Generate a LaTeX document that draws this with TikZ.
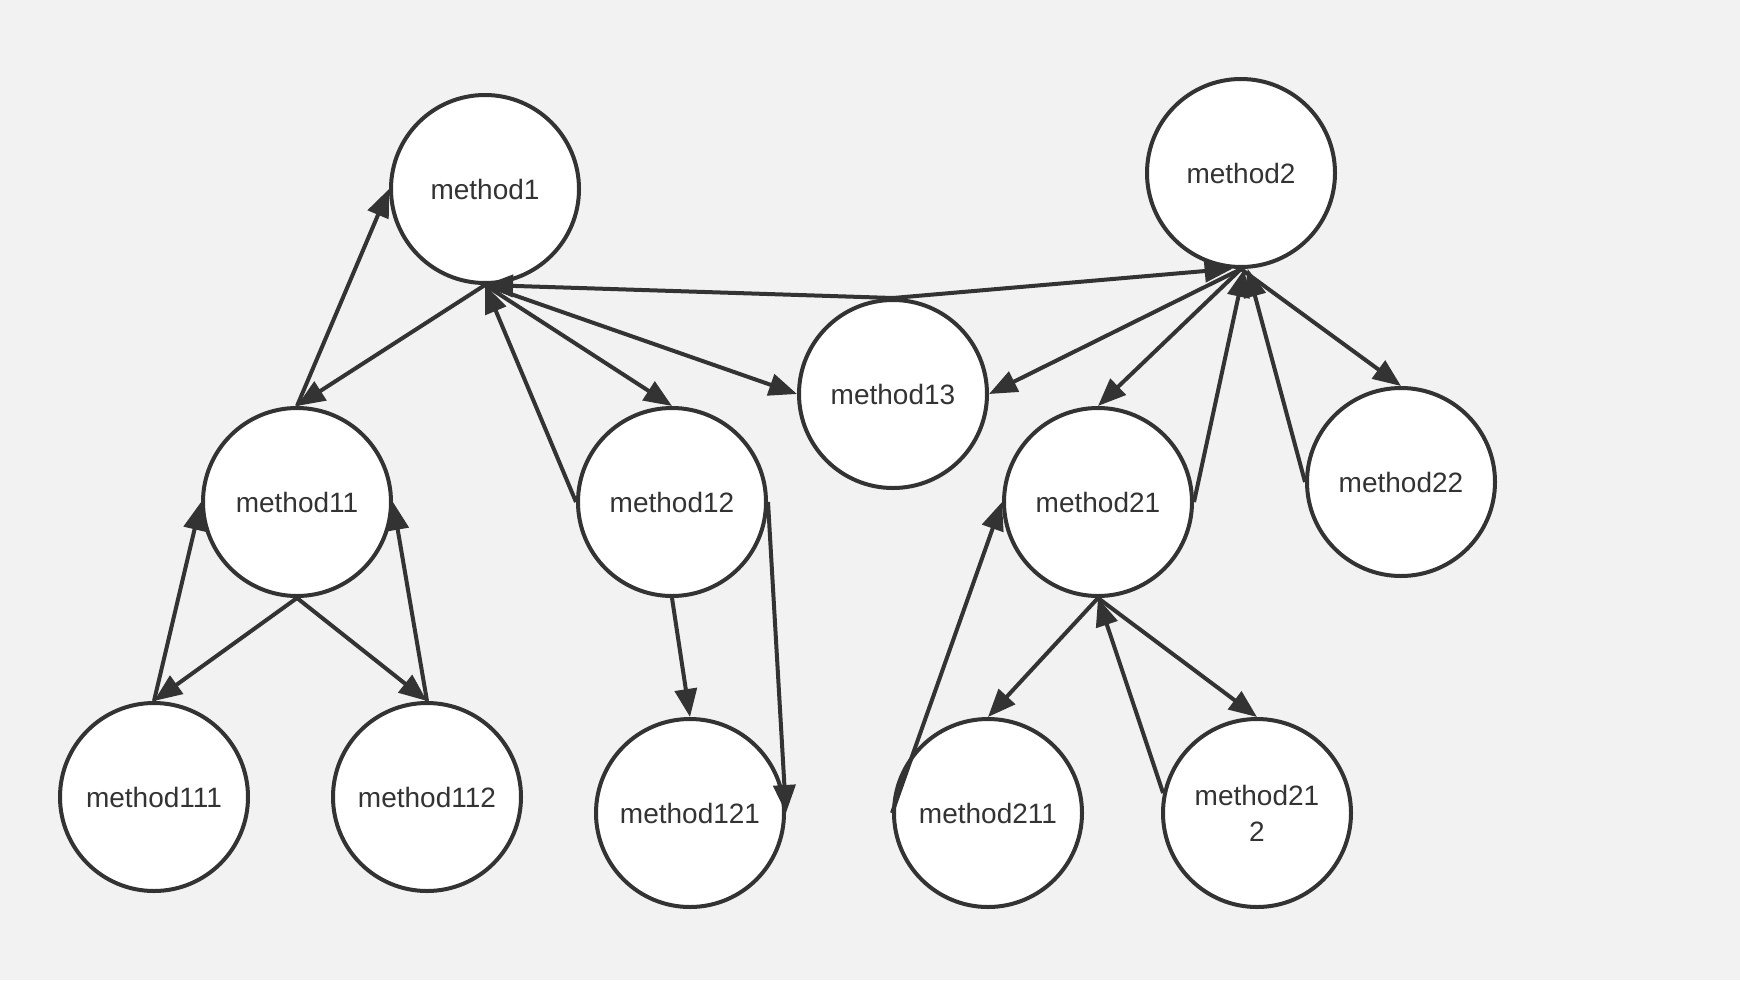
\documentclass[tikz,border=0pt]{standalone}
\usepackage{fontspec}
\setmainfont{Liberation Sans}
\usetikzlibrary{arrows.meta}
\definecolor{ink}{HTML}{333333}
\definecolor{bg}{HTML}{F2F2F2}
\begin{document}
\begin{tikzpicture}[x=0.5pt,y=-0.5pt,
  mnode/.style={circle,draw=ink,fill=white,line width=2pt,minimum size=94pt,inner sep=0pt,
    text=ink,font=\fontsize{14}{18}\selectfont,align=center},
  link/.style={draw=ink,line width=2pt,-{Triangle[length=14pt,width=11pt]}}]
\fill[bg] (0,0) rectangle (1740,980);
\useasboundingbox (0,0) rectangle (1740,980);

\node[mnode] (m1)   at (485,189)  {method1};
\node[mnode] (m2)   at (1241,173) {method2};
\node[mnode] (m11)  at (297,502)  {method11};
\node[mnode] (m12)  at (672,502)  {method12};
\node[mnode] (m13)  at (893,394)  {method13};
\node[mnode] (m21)  at (1098,502) {method21};
\node[mnode] (m22)  at (1401,482) {method22};
\node[mnode] (m111) at (154,797)  {method111};
\node[mnode] (m112) at (427,797)  {method112};
\node[mnode] (m121) at (690,813)  {method121};
\node[mnode] (m211) at (988,813)  {method211};
\node[mnode] (m212) at (1257,813) {method21\\2};

% method1 subtree
\draw[link] (m11.north) -- (m1.west);
\draw[link] (m1.south) -- (m11.north);
\draw[link] (m12.west) -- (m1.south);
\draw[link] (m1.south) -- (m12.north);
\draw[link] (m1.south) -- (m13.west);
\draw[link] (m13.north) -- (m1.south);
\draw[link] (m13.north) -- (m2.265);

% method2 subtree
\draw[link] (m2.south) -- (m13.east);
\draw[link] (m2.south) -- (m21.north);
\draw[link] (m21.east) -- (m2.272);
\draw[link] (m22.west) -- (m2.-86);
\draw[link] (m2.south) -- (m22.north);

% method11 children
\draw[link] (m11.south) -- (m111.north);
\draw[link] (m111.north) -- (m11.west);
\draw[link] (m11.south) -- (m112.north);
\draw[link] (m112.north) -- (m11.east);

% method12 children
\draw[link] (m12.south) -- (m121.north);
\draw[link] (m12.east) -- (m121.east);

% method21 children
\draw[link] (m211.west) -- (m21.west);
\draw[link] (m21.south) -- (m211.north);
\draw[link] (m212.168) -- (m21.south);
\draw[link] (m21.south) -- (m212.north);
\end{tikzpicture}
\end{document}
